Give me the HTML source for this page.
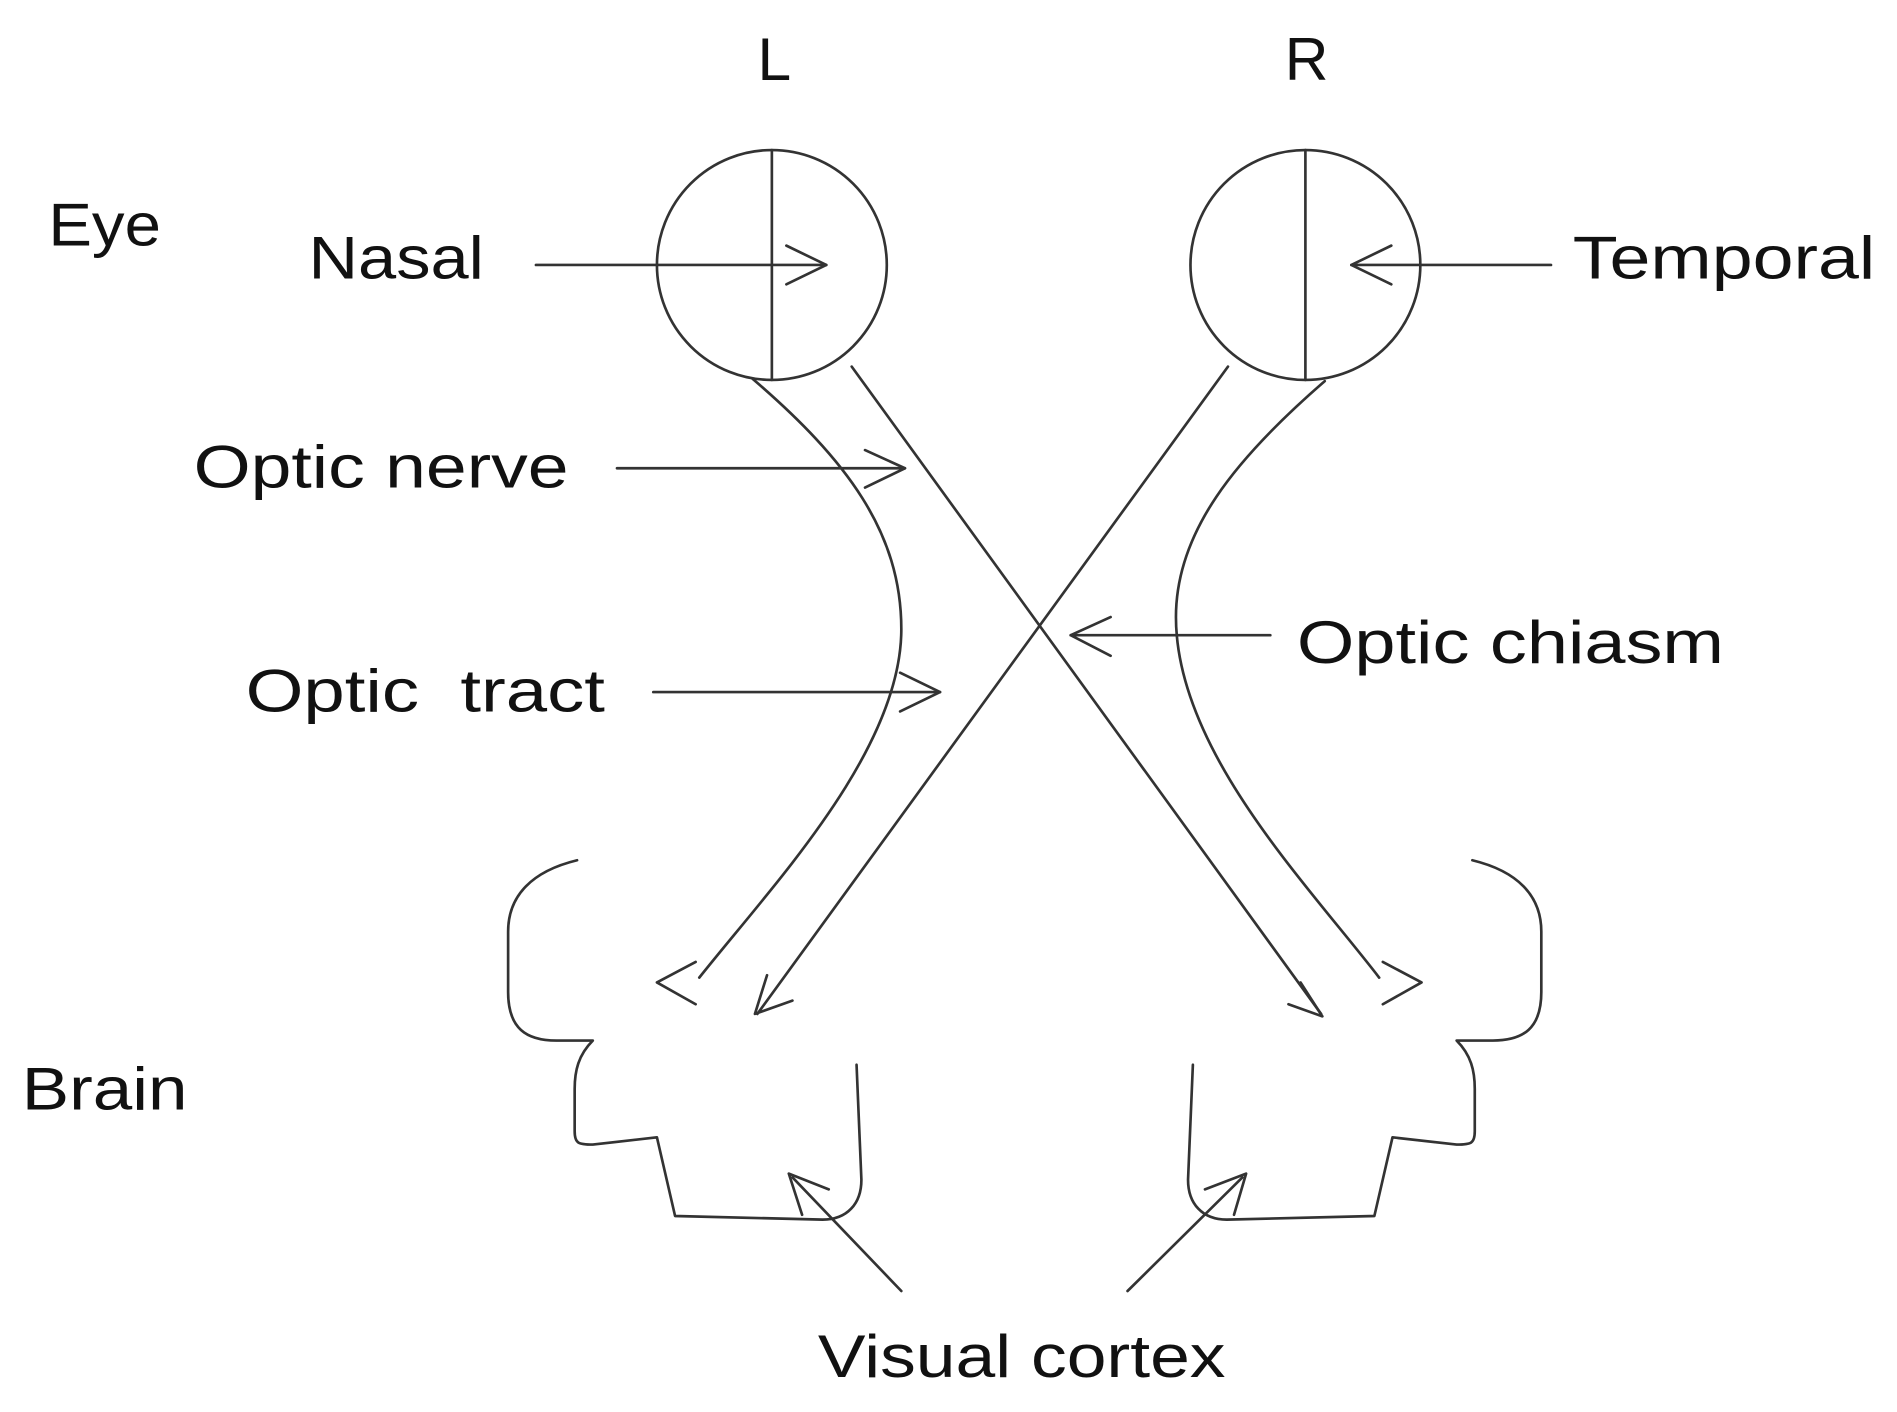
<!DOCTYPE html>
<html><head><meta charset="utf-8"><style>
html,body{margin:0;padding:0;background:#fff;}
svg{display:block;}
text{font-family:"Liberation Sans",sans-serif;font-size:50px;fill:#111;}
</style></head><body>
<svg width="1897" height="1412" viewBox="0 0 1568 1167" preserveAspectRatio="none">
<g fill="none" stroke="#333" stroke-width="2.2" stroke-linecap="round" stroke-linejoin="round">
<circle cx="638" cy="219" r="95"/><line x1="638" y1="124" x2="638" y2="314"/>
<circle cx="1079" cy="219" r="95"/><line x1="1079" y1="124" x2="1079" y2="314"/>
<line x1="443" y1="219" x2="683" y2="219"/><polyline points="650,203 683,219 650,235"/>
<line x1="1282" y1="219" x2="1117" y2="219"/><polyline points="1150,203 1117,219 1150,235"/>
<path d="M622,313 C700,380 745,440 745,520 C745,620 640,730 578,808"/>
<polyline points="575,795 543,812 575,830"/>
<path d="M1095,315 C1020,380 972,440 972,510 C972,620 1080,730 1140,808"/>
<polyline points="1143,795 1175,812 1143,830"/>
<line x1="704" y1="303" x2="1092" y2="838"/><polyline points="1075,812 1093,840 1065,830"/>
<line x1="1015" y1="303" x2="626" y2="838"/><polyline points="634,806 624,838 655,827"/>
<line x1="510" y1="387" x2="748" y2="387"/><polyline points="715,372 748,387 715,403"/>
<line x1="540" y1="572" x2="777" y2="572"/><polyline points="744,556 777,572 744,588"/>
<line x1="1050" y1="525" x2="885" y2="525"/><polyline points="918,510 885,525 918,542"/>
<g id="b"><path d="M477,711 C440,720 420,740 420,770 L420,820 C420,850 435,860 460,860 L490,860 C478,872 475,885 475,900 L475,935 C475,945 478,946 490,946 L543,940 L558,1005 L680,1008 C700,1008 712,995 712,975 L708,880"/></g>
<use href="#b" transform="translate(1694,0) scale(-1,1)"/>
<line x1="745" y1="1067" x2="655" y2="973"/><polyline points="663,1004 652,970 685,983"/>
<line x1="932" y1="1067" x2="1027" y2="973"/><polyline points="996,983 1030,970 1020,1004"/>
</g>
<text x="640" y="66" text-anchor="middle">L</text>
<text x="1080" y="66" text-anchor="middle">R</text>
<text x="40" y="203" textLength="93" lengthAdjust="spacingAndGlyphs">Eye</text>
<text x="255" y="230" textLength="145" lengthAdjust="spacingAndGlyphs">Nasal</text>
<text x="1300" y="230" textLength="250" lengthAdjust="spacingAndGlyphs">Temporal</text>
<text x="160" y="403" textLength="310" lengthAdjust="spacingAndGlyphs">Optic nerve</text>
<text x="203" y="588" xml:space="preserve" textLength="297" lengthAdjust="spacingAndGlyphs">Optic  tract</text>
<text x="1072" y="548" textLength="353" lengthAdjust="spacingAndGlyphs">Optic chiasm</text>
<text x="18" y="917" textLength="137" lengthAdjust="spacingAndGlyphs">Brain</text>
<text x="676" y="1138" textLength="337" lengthAdjust="spacingAndGlyphs">Visual cortex</text>
</svg>
</body></html>
